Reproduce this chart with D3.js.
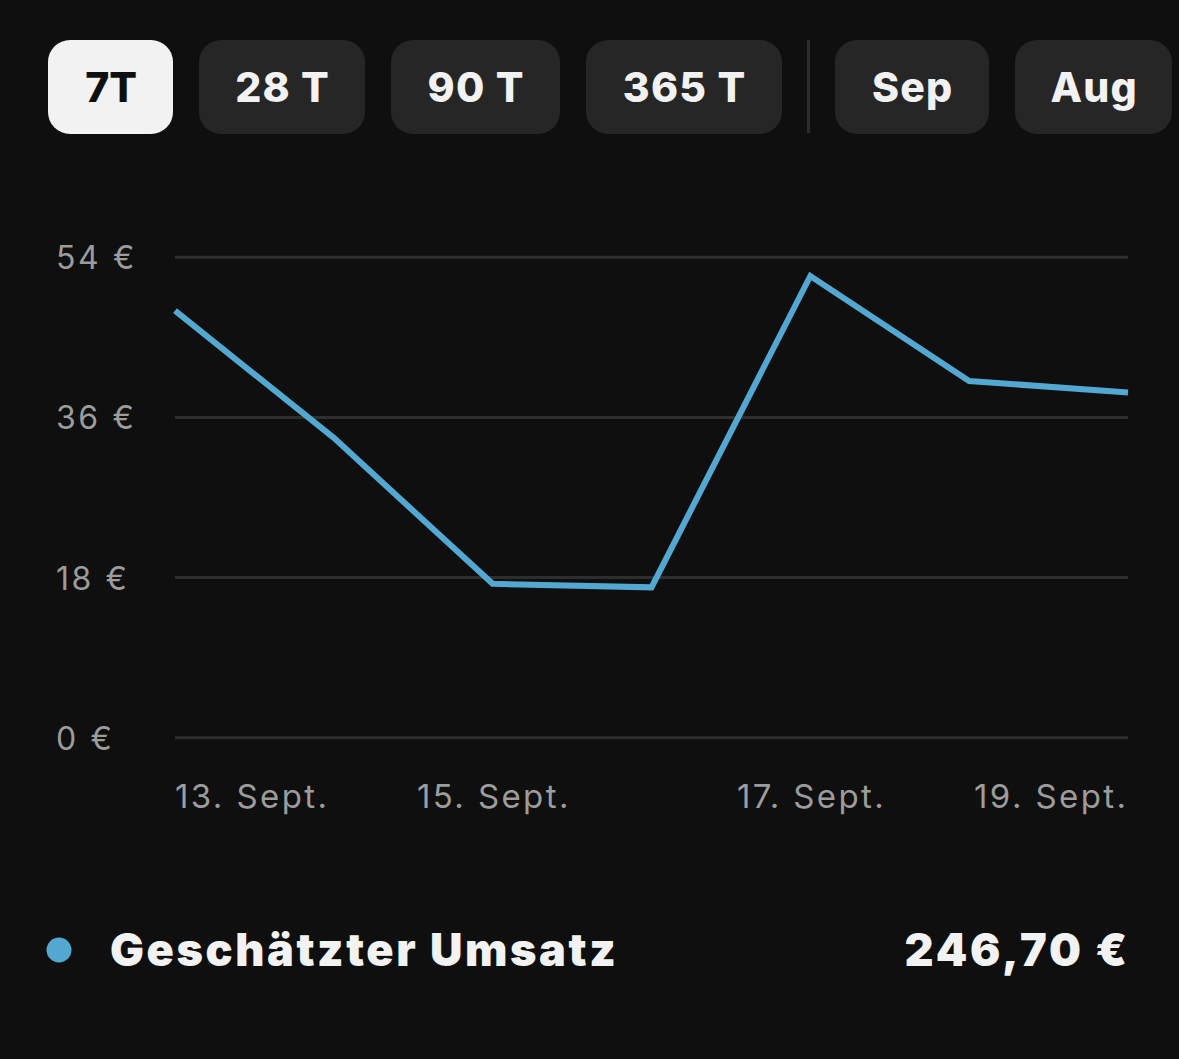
<!DOCTYPE html>
<html>
<head>
<meta charset="utf-8">
<script src="https://cdn.jsdelivr.net/npm/d3@7"></script>
<style>
  html, body { margin: 0; padding: 0; background: #0f0f0f; }
  svg { display: block; }
</style>
</head>
<body>
<svg id="chart" width="1179" height="1059"></svg>
<script>
// ---- data ----
const days = ["13. Sept.", "14. Sept.", "15. Sept.", "16. Sept.", "17. Sept.", "18. Sept.", "19. Sept."];
const revenue = [48.0, 33.7, 17.3, 16.9, 51.9, 40.1, 38.8];
const yTicks = [0, 18, 36, 54];
const xTickLabels = ["13. Sept.", "15. Sept.", "17. Sept.", "19. Sept."];
const buttons = ["7T", "28 T", "90 T", "365 T", "Sep", "Aug"];
const seriesName = "Geschätzter Umsatz";
const totalLabel = "246,70 €";

const W = 1179, H = 1059;
const svg = d3.select("#chart");
svg.append("rect").attr("width", W).attr("height", H).attr("fill", "#0f0f0f");

const FONT = "Inter, 'Noto Sans', sans-serif";

// ---- segmented buttons ----
const btnBoxes = [
  {x0: 48, x1: 173}, {x0: 199, x1: 365}, {x0: 391, x1: 560},
  {x0: 586, x1: 782}, {x0: 835, x1: 989}, {x0: 1015, x1: 1172}
];
const btnG = svg.append("g");
buttons.forEach((b, i) => {
  const bx = btnBoxes[i];
  const active = i === 0;
  btnG.append("rect")
    .attr("x", bx.x0).attr("y", 40)
    .attr("width", bx.x1 - bx.x0).attr("height", 94)
    .attr("rx", 22).attr("ry", 22)
    .attr("fill", active ? "#f2f2f2" : "#262626");
  btnG.append("text")
    .attr("x", (bx.x0 + bx.x1) / 2 + 0.6).attr("y", 102)
    .attr("text-anchor", "middle")
    .attr("font-family", FONT).attr("font-weight", 800)
    .attr("font-size", 41)
    .attr("letter-spacing", active ? 0 : 1.2)
    .attr("fill", active ? "#0f0f0f" : "#f2f2f2")
    .text(b);
});
btnG.append("line")
  .attr("x1", 808.5).attr("x2", 808.5).attr("y1", 40).attr("y2", 133)
  .attr("stroke", "#2c2c2c").attr("stroke-width", 3);

// ---- scales ----
const x = d3.scalePoint().domain(days).range([175, 1128]);
const y = d3.scaleLinear().domain([0, 54]).range([737.7, 257.3]);

// grid lines
const grid = svg.append("g");
grid.selectAll("line").data(yTicks).join("line")
  .attr("x1", 175).attr("x2", 1128)
  .attr("y1", d => y(d)).attr("y2", d => y(d))
  .attr("stroke", "#2e2e2e").attr("stroke-width", 3);

// y labels
svg.append("g").selectAll("text").data(yTicks).join("text")
  .attr("x", 56).attr("y", d => y(d) + 12)
  .attr("font-family", FONT).attr("font-size", 32)
  .attr("letter-spacing", 2.6)
  .attr("fill", "#9c9c9c")
  .text(d => d + " €");

// x labels
const xl = svg.append("g");
const LS = 2.4;
xTickLabels.forEach((lab, i) => {
  const last = i === xTickLabels.length - 1;
  const anchor = i === 0 ? "start" : (last ? "end" : "middle");
  xl.append("text")
    .attr("x", x(lab) + (last ? LS - 2 : (i === 0 ? 0 : LS / 2)))
    .attr("y", 808)
    .attr("text-anchor", anchor)
    .attr("font-family", FONT).attr("font-size", 33)
    .attr("letter-spacing", LS)
    .attr("fill", "#9c9c9c")
    .text(lab);
});

// line
const line = d3.line()
  .x((d, i) => x(days[i]))
  .y(d => y(d));
svg.append("path")
  .datum(revenue)
  .attr("d", line)
  .attr("fill", "none")
  .attr("stroke", "#52a8d1")
  .attr("stroke-width", 6)
  .attr("stroke-linejoin", "miter")
  .attr("stroke-linecap", "butt");

// legend
svg.append("circle").attr("cx", 59).attr("cy", 950).attr("r", 12.5).attr("fill", "#52a8d1");
svg.append("text")
  .attr("x", 110).attr("y", 966)
  .attr("font-family", FONT).attr("font-weight", 900).attr("font-size", 45)
  .attr("letter-spacing", 2.6)
  .attr("fill", "#f2f2f2")
  .text(seriesName);
svg.append("text")
  .attr("x", 1127 + 2.8).attr("y", 966)
  .attr("text-anchor", "end")
  .attr("font-family", FONT).attr("font-weight", 900).attr("font-size", 45)
  .attr("letter-spacing", 2.8)
  .attr("fill", "#f2f2f2")
  .text(totalLabel);
</script>
</body>
</html>
